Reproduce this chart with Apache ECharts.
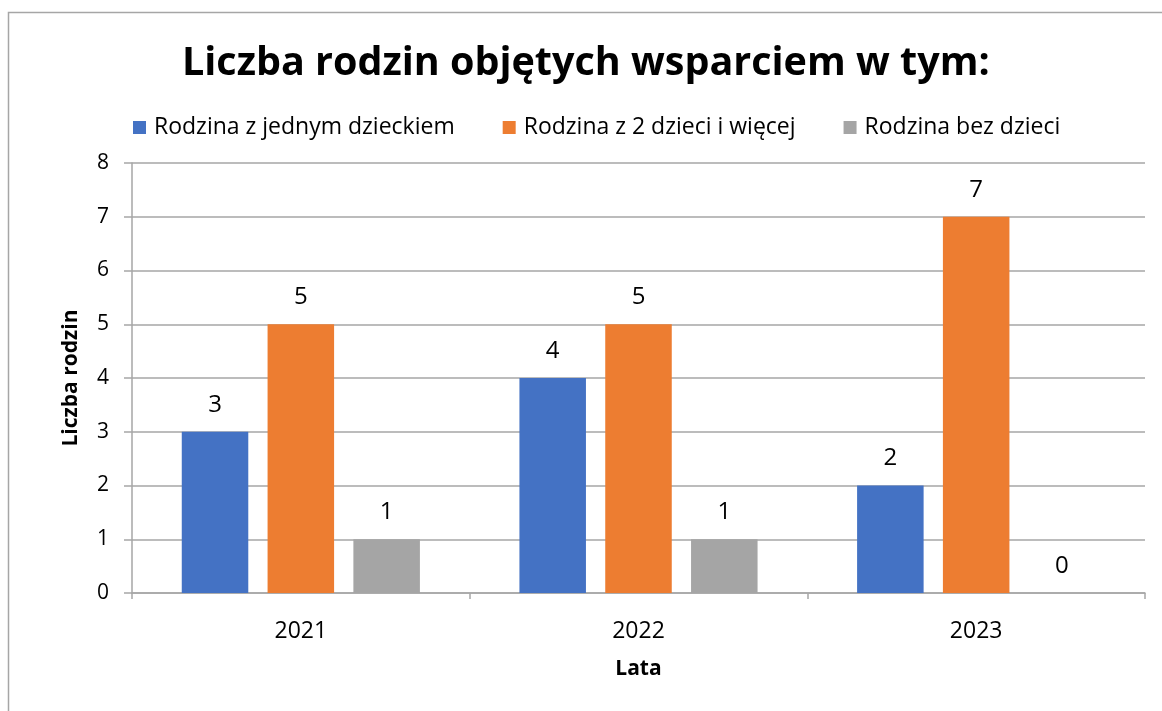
<!DOCTYPE html>
<html>
<head>
<meta charset="utf-8">
<script src="https://cdn.jsdelivr.net/npm/echarts@6/dist/echarts.min.js"></script>
<style>
html,body{margin:0;padding:0;background:#fff;}
#c{width:1162px;height:711px;}
</style>
</head>
<body>
<div id="c"></div>
<script>
const titleText = 'Liczba rodzin objętych wsparciem w tym:';
const categories = ['2021', '2022', '2023'];
const seriesNames = ['Rodzina z jednym dzieckiem', 'Rodzina z 2 dzieci i więcej', 'Rodzina bez dzieci'];
const oneChild = [3, 4, 2];
const twoPlus = [5, 5, 7];
const noChildren = [1, 1, 0];
const yAxisName = 'Liczba rodzin';
const xAxisName = 'Lata';

const FONT = 'Open Sans';
const colors = ['#4472C4', '#ED7D31', '#A5A5A5'];
const chart = echarts.init(document.getElementById('c'), null, {renderer: 'canvas'});

function mk(name, data, color) {
  return {
    name: name, type: 'bar', data: data,
    barWidth: '19.7%', barGap: '29%',
    itemStyle: {color: color},
    label: {show: true, position: 'top', distance: 15, color: '#000', fontSize: 24, fontFamily: FONT},
    emphasis: {disabled: true}
  };
}

chart.setOption({
  animation: false,
  textStyle: {fontFamily: FONT},
  graphic: [{
    type: 'rect', left: 6, top: 10, shape: {width: 1170, height: 720},
    style: {fill: 'none', stroke: '#a6a6a6', lineWidth: 1.5}, silent: true, z: -1
  }],
  title: {
    text: titleText, left: 177, top: 39,
    textStyle: {fontFamily: FONT, fontSize: 39.5, fontWeight: 'bold', color: '#000'}
  },
  legend: {
    data: seriesNames, left: 128, top: 111,
    itemWidth: 13, itemHeight: 13, itemGap: 48, icon: 'rect',
    textStyle: {fontFamily: FONT, fontSize: 23, color: '#000', padding: [0, 0, 0, 3]}
  },
  grid: {left: 132, right: 17, top: 163, bottom: 118, containLabel: false},
  xAxis: {
    type: 'category', data: categories,
    name: xAxisName, nameLocation: 'middle', nameGap: 66,
    nameTextStyle: {fontFamily: FONT, fontSize: 21, fontWeight: 'bold', color: '#000'},
    axisLine: {lineStyle: {color: '#a6a6a6', width: 1.5}},
    axisTick: {show: true, length: 6, lineStyle: {color: '#a6a6a6', width: 1.5}},
    axisLabel: {fontSize: 23, color: '#000', fontFamily: FONT, margin: 27}
  },
  yAxis: {
    type: 'value', min: 0, max: 8, interval: 1,
    name: yAxisName, nameLocation: 'middle', nameGap: 50,
    nameTextStyle: {fontFamily: FONT, fontSize: 21, fontWeight: 'bold', color: '#000'},
    axisLine: {show: true, lineStyle: {color: '#a6a6a6', width: 1.5}},
    axisTick: {show: true, length: 8, lineStyle: {color: '#a6a6a6', width: 1.5}},
    axisLabel: {fontSize: 21, color: '#000', fontFamily: FONT, margin: 23},
    splitLine: {lineStyle: {color: '#a6a6a6', width: 1.5}}
  },
  series: [mk(seriesNames[0], oneChild, colors[0]), mk(seriesNames[1], twoPlus, colors[1]), mk(seriesNames[2], noChildren, colors[2])]
});
</script>
</body>
</html>
